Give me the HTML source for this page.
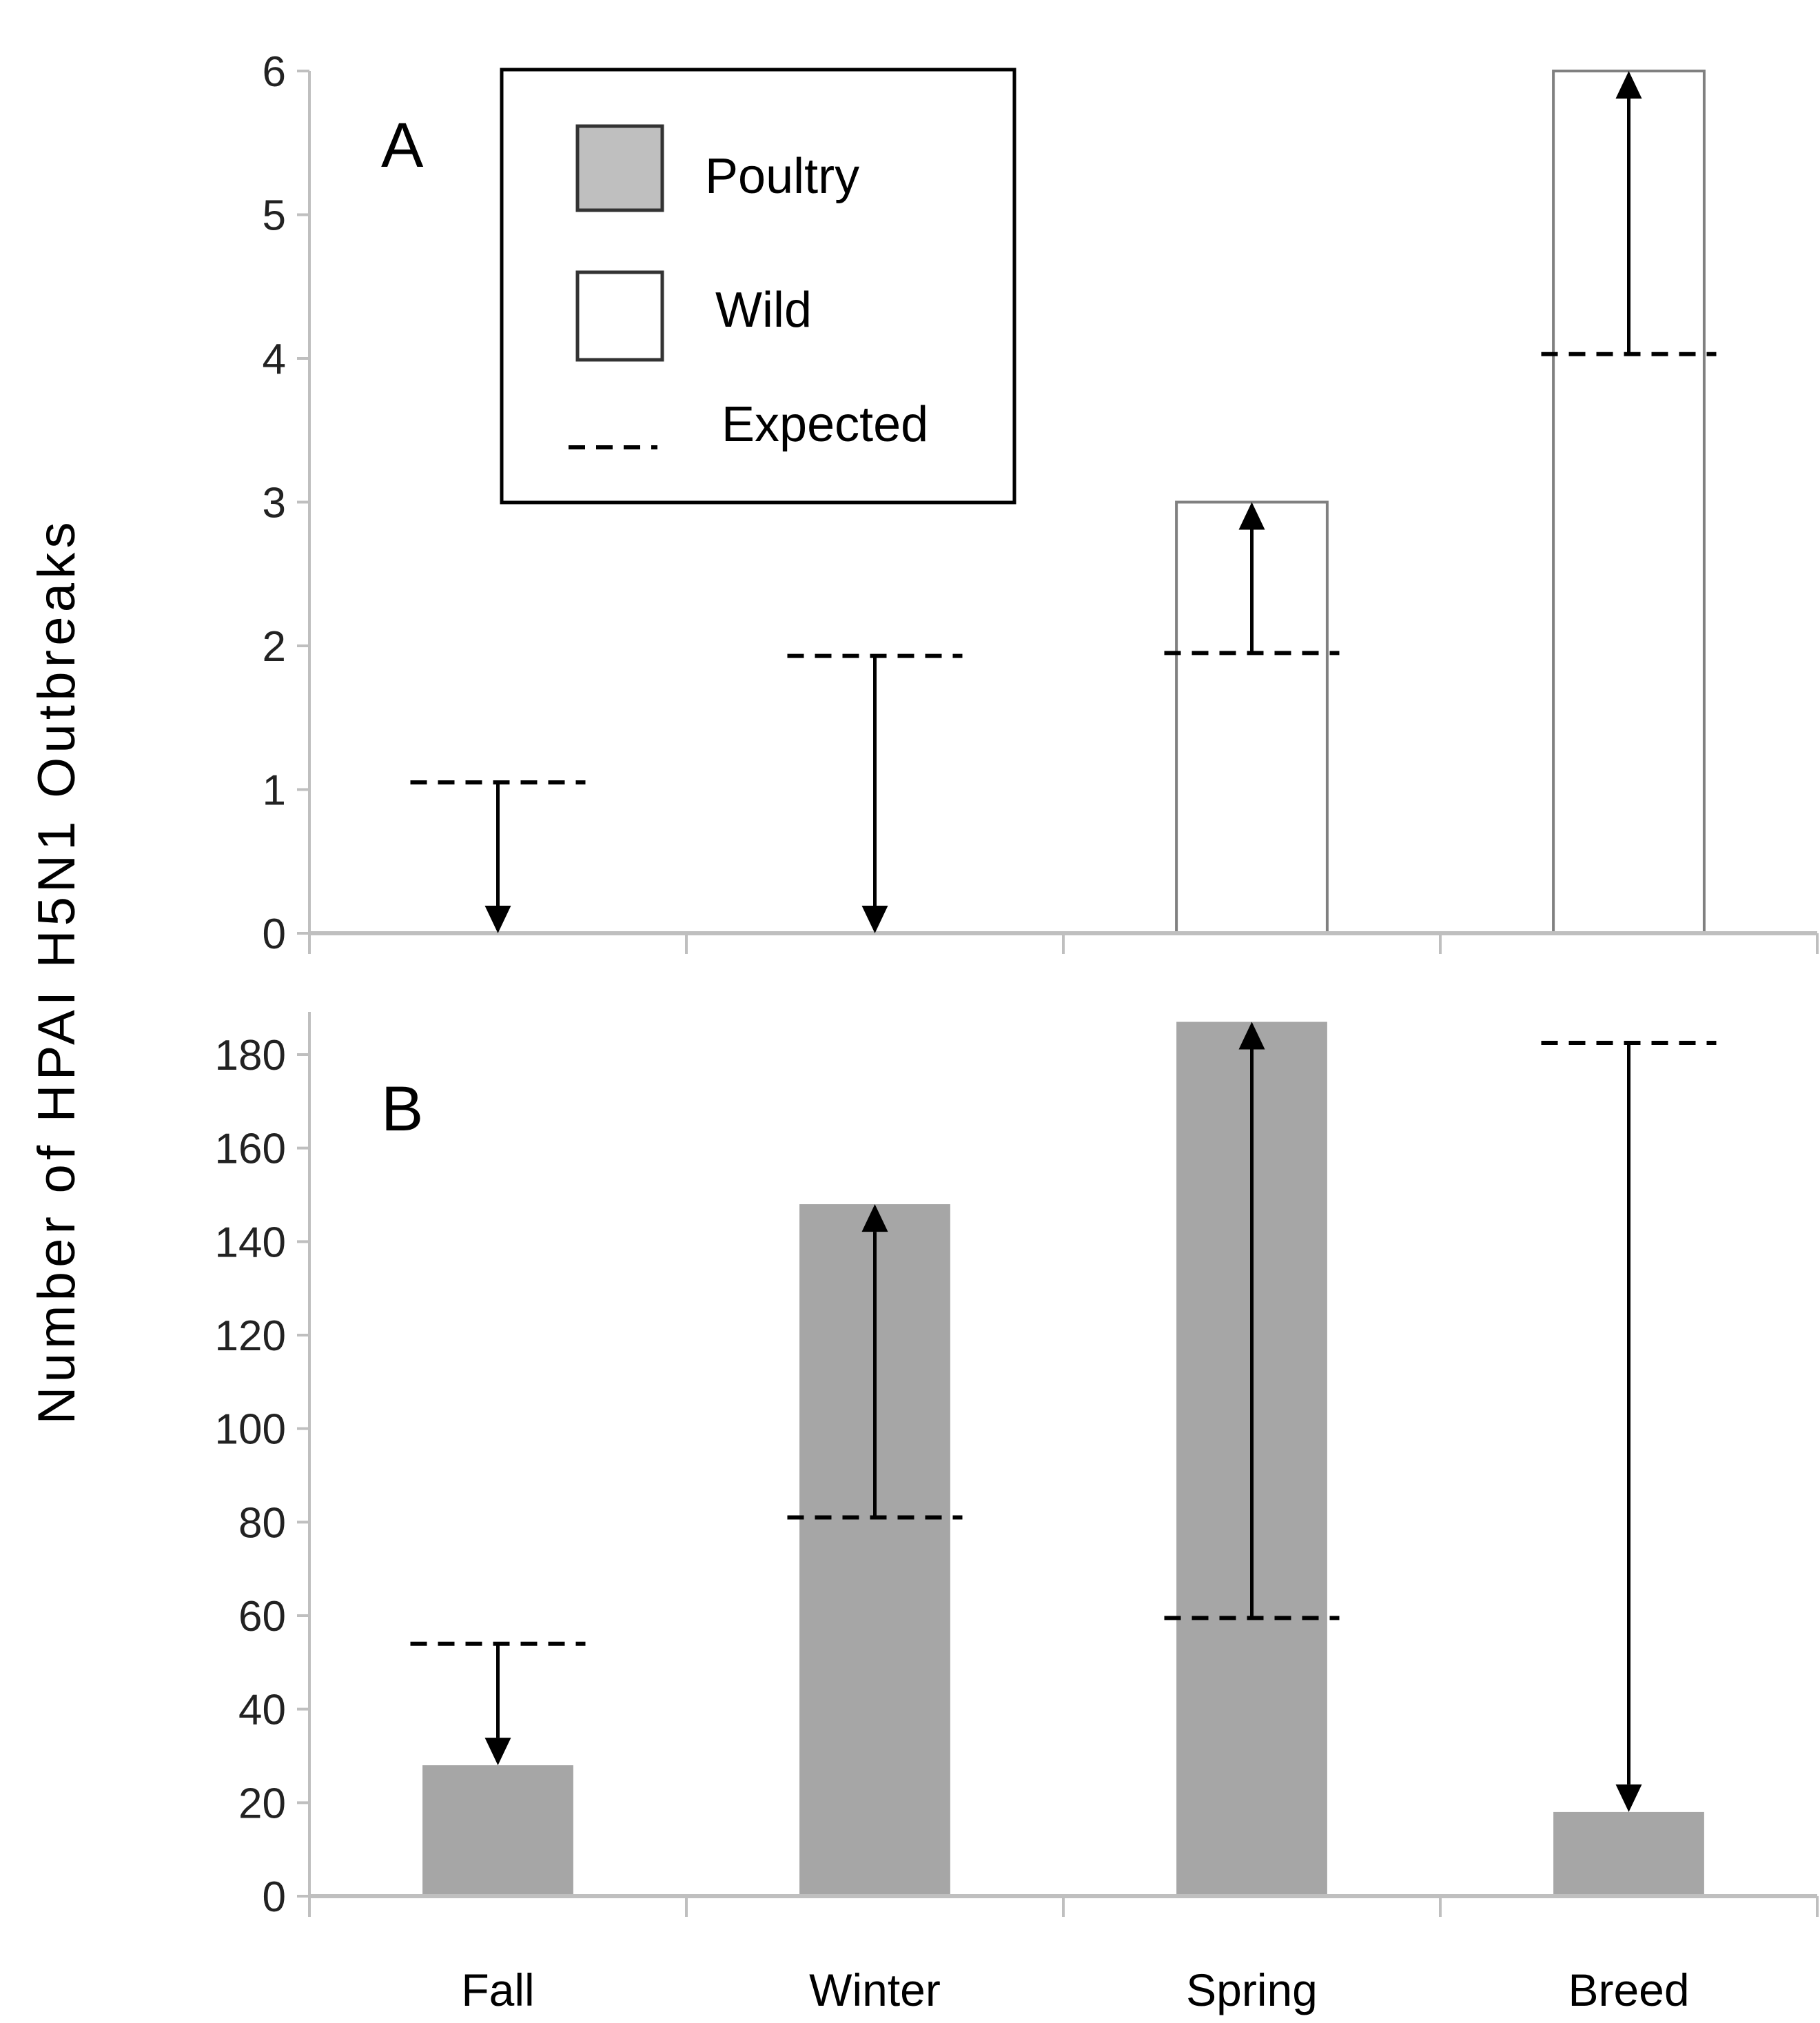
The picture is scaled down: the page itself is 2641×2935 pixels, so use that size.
<!DOCTYPE html>
<html><head><meta charset="utf-8"><style>
html,body{margin:0;padding:0;background:#fff;}
svg{display:block;font-family:"Liberation Sans",sans-serif;}
</style></head><body>
<svg id="chart" width="2641" height="2935" viewBox="0 0 2641 2935" xmlns="http://www.w3.org/2000/svg">
<g id="panelA"></g>
<g id="panelB"></g>
<text x="108" y="1412" transform="rotate(-90 108 1412)" text-anchor="middle" font-size="76" textLength="1309" fill="#000">Number of HPAI H5N1 Outbreaks</text>
<g>
<rect x="728" y="101" width="744" height="628" fill="#fff" stroke="#000" stroke-width="5"/>
<rect x="838" y="183" width="123" height="122" fill="#bfbfbf" stroke="#333" stroke-width="5"/>
<text x="1023" y="280" font-size="72">Poultry</text>
<rect x="838" y="395" width="123" height="127" fill="#fff" stroke="#333" stroke-width="5"/>
<text x="1038" y="474" font-size="72">Wild</text>
<line x1="825" y1="649" x2="954" y2="649" stroke="#000" stroke-width="6" stroke-dasharray="24,16"/>
<text x="1047" y="640" font-size="72">Expected</text>
</g>
</svg>
<script>
const categories = ["Fall","Winter","Spring","Breed"];
const wildValues = [0,0,3,6];
const wildExpected = [1.05,1.93,1.95,4.03];
const wildTicks = [0,1,2,3,4,5,6];
const poultryValues = [28,148,187,18];
const poultryExpected = [54,81,59.5,182.5];
const poultryTicks = [0,20,40,60,80,100,120,140,160,180];

const NS="http://www.w3.org/2000/svg";
function mk(parent,tag,attrs){const e=document.createElementNS(NS,tag);for(const k in attrs)e.setAttribute(k,attrs[k]);parent.appendChild(e);return e;}
const x0=449,x1=2637,catW=(x1-x0)/categories.length;
function xc(i){return x0+catW*(i+0.5);}

function drawPanel(g,values,expected,ticks,y0,yTop,vMax,isWild,label,labelY,axisTop){
  const ys=v=>y0-(v/vMax)*(y0-yTop);
  const ya=mk(g,'line',{x1:x0,y1:axisTop,x2:x0,y2:y0+30,stroke:'#bfbfbf','stroke-width':4});
  
  
  ticks.forEach(t=>{
    const y=ys(t);
    const tl=mk(g,'line',{x1:x0-18,y1:y,x2:x0,y2:y,stroke:'#bfbfbf','stroke-width':4});
    
    
    const tx=mk(g,'text',{x:415,y:y+22,'text-anchor':'end','font-size':62,fill:'#222'});
    tx.textContent=t;
    
    
  });
  const lb=mk(g,'text',{x:553,y:labelY,'font-size':92,fill:'#000'});
  lb.textContent=label;
  
  
  const bw=catW*0.4;
  values.forEach((v,i)=>{
    if(v<=0)return;
    const r=mk(g,'rect',{x:xc(i)-bw/2,y:ys(v),width:bw,height:y0-ys(v),fill:isWild?'#fff':'#a6a6a6',stroke:isWild?'#808080':'none','stroke-width':4});
    
    
  });
  const xa=mk(g,'line',{x1:x0,y1:y0,x2:x1,y2:y0,stroke:'#bfbfbf','stroke-width':6});
  
  
  for(let i=0;i<=categories.length;i++){
    const t=mk(g,'line',{x1:x0+catW*i,y1:y0,x2:x0+catW*i,y2:y0+30,stroke:'#bfbfbf','stroke-width':4});
    
    
  }
  expected.forEach((e,i)=>{
    const ye=ys(e),yv=ys(values[i]);
    const d=mk(g,'line',{x1:xc(i)-127,y1:ye,x2:xc(i)+127,y2:ye,stroke:'#000','stroke-width':6,'stroke-dasharray':'24,16'});
    
    
    const dir=yv<ye?-1:1;
    const head=40;
    const l=mk(g,'line',{x1:xc(i),y1:ye,x2:xc(i),y2:yv-dir*head,stroke:'#000','stroke-width':5});
    
    
    const p=mk(g,'polygon',{points:`${xc(i)-19},${yv-dir*head} ${xc(i)+19},${yv-dir*head} ${xc(i)},${yv}`,fill:'#000'});
    
    
  });
}
const gA=document.getElementById('panelA'),gB=document.getElementById('panelB');
drawPanel(gA,wildValues,wildExpected,wildTicks,1354,103,6,true,'A',242,103);
drawPanel(gB,poultryValues,poultryExpected,poultryTicks,2751,1530,180,false,'B',1640,1468);
categories.forEach((c,i)=>{
  const t=mk(gB,'text',{x:xc(i),y:2910,'text-anchor':'middle','font-size':66,fill:'#000'});
  t.textContent=c;
  
  
});
</script>
</body></html>
